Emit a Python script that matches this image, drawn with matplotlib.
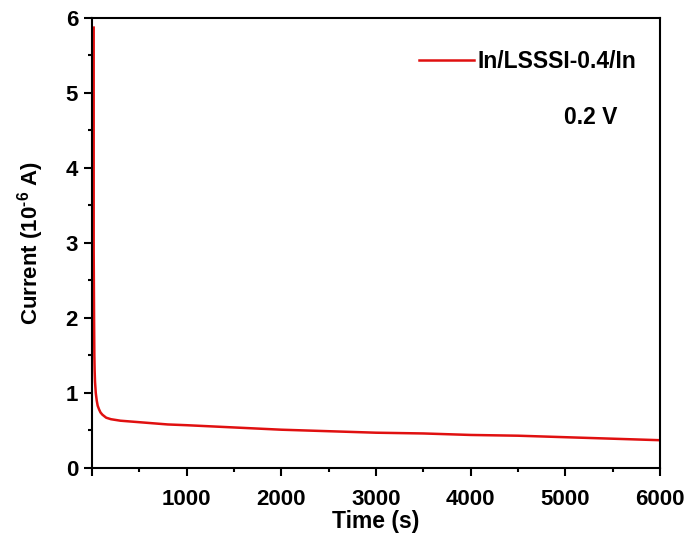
import numpy as np
import matplotlib.pyplot as plt

plt.rcParams['font.family'] = ['Liberation Sans', 'DejaVu Sans']
plt.rcParams['font.weight'] = 'bold'
plt.rcParams['mathtext.fontset'] = 'custom'
plt.rcParams['mathtext.rm'] = 'Liberation Sans:bold'
plt.rcParams['mathtext.bf'] = 'Liberation Sans:bold'
plt.rcParams['mathtext.default'] = 'bf'

# time (s) and current (10^-6 A)
time = [18, 18, 22, 25, 28, 32, 40, 50, 60, 75, 90, 110, 150, 200, 300, 400,
        600, 800, 1000, 1500, 2000, 2500, 3000, 3500, 4000, 4500, 5000,
        5500, 6000]
current = [5.87, 2.9, 2.0, 1.5, 1.3, 1.15, 1.0, 0.9, 0.83, 0.78, 0.74, 0.71,
           0.67, 0.65, 0.63, 0.62, 0.60, 0.58, 0.57, 0.54, 0.51, 0.49, 0.47,
           0.46, 0.44, 0.43, 0.41, 0.39, 0.37]

x_ticks = [0, 1000, 2000, 3000, 4000, 5000, 6000]
x_labels = ['', '1000', '2000', '3000', '4000', '5000', '6000']
y_ticks = [0, 1, 2, 3, 4, 5, 6]


def plot_current(time, current):
    fig = plt.figure(figsize=(6.89, 5.41), dpi=100)
    ax = fig.add_axes([0.1335, 0.135, 0.8245, 0.832])

    ax.plot(time, current, color='#e01010', lw=1.8, label='In/LSSSI-0.4/In')

    ax.set_xlim(0, 6000)
    ax.set_ylim(0, 6)
    ax.set_xticks(x_ticks)
    ax.set_xticklabels(x_labels)
    ax.set_yticks(y_ticks)
    ax.set_xticks(np.arange(500, 6000, 1000), minor=True)
    ax.set_yticks(np.arange(0.5, 6, 1), minor=True)
    ax.tick_params(which='both', direction='out', width=1.5, labelsize=16)
    ax.tick_params(which='major', length=6)
    ax.tick_params(which='minor', length=3)
    ax.tick_params(axis='x', pad=9)
    ax.tick_params(axis='y', pad=4)

    for s in ax.spines.values():
        s.set_linewidth(1.5)

    ax.set_xlabel('Time (s)', fontsize=16.5, fontweight='bold', labelpad=0)
    ax.set_ylabel(r'Current (10$^{\text{-}6}$ A)', fontsize=16,
                  fontweight='bold', labelpad=14)

    ax.legend(loc='upper right', frameon=False, fontsize=16.5,
              handlelength=2.4, handletextpad=0.15,
              bbox_to_anchor=(0.995, 0.975))
    ax.text(0.925, 0.765, '0.2 V', transform=ax.transAxes, fontsize=16.5,
            fontweight='bold', ha='right')

    plt.savefig('out.png')


def main():
    plot_current(time, current)


if __name__ == "__main__":
    main()
